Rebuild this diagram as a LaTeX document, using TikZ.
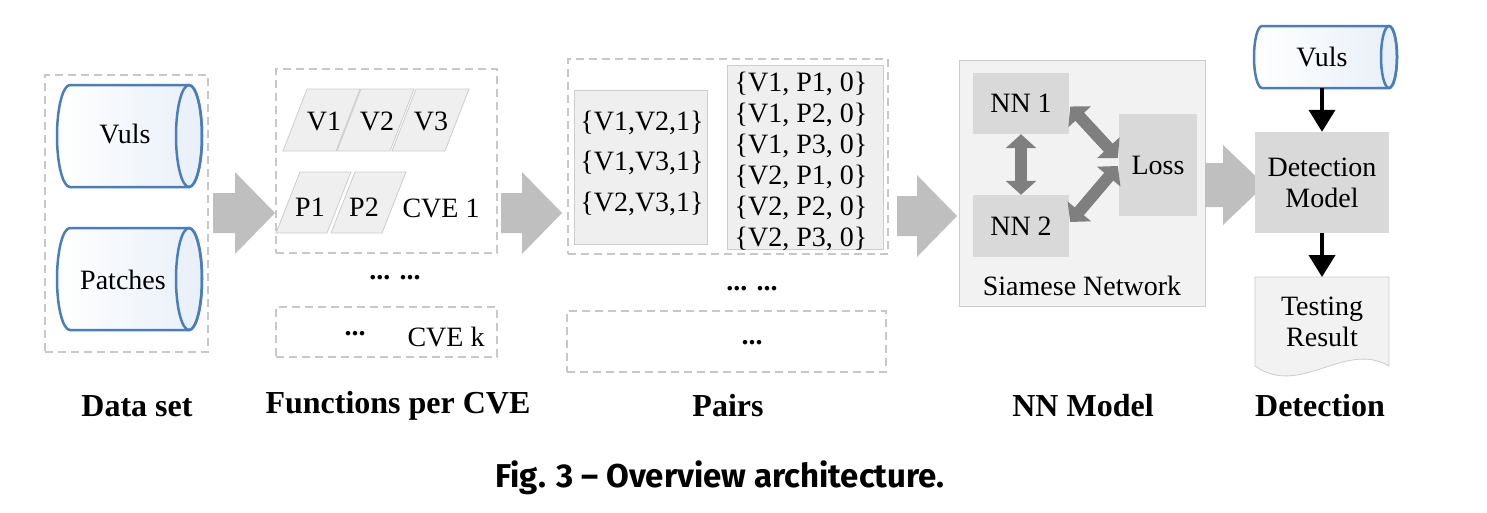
\documentclass[tikz,border=0pt]{standalone}
\usepackage{fontspec}
\setmainfont{Liberation Serif}
\newfontfamily\capfont{Fira Sans}
\usetikzlibrary{arrows.meta,calc}
\definecolor{cylblue}{HTML}{4A7EBB}
\definecolor{cylfill}{HTML}{E8EFF8}
\definecolor{dashgray}{HTML}{C8C8C8}
\definecolor{arrowgray}{HTML}{BFBFBF}
\definecolor{boxfill}{HTML}{EFEFEF}
\definecolor{boxline}{HTML}{CCCCCC}
\definecolor{nnfill}{HTML}{D9D9D9}
\definecolor{darrgray}{HTML}{7F7F7F}
\definecolor{siamfill}{HTML}{F2F2F2}
\newcommand{\bodyfont}{\fontsize{28}{31}\selectfont}
\newcommand{\blockarrow}[6]{%
  \fill[arrowgray] (#1,{#4-#5}) -- (#2,{#4-#5}) -- (#2,{#4-#6}) -- (#3,#4) -- (#2,{#4+#6}) -- (#2,{#4+#5}) -- (#1,{#4+#5}) -- cycle;}
\begin{document}
\begin{tikzpicture}[x=1pt,y=-1pt,
  every node/.style={font=\bodyfont, inner sep=0pt},
  dashbox/.style={draw=dashgray, line width=1.3pt, dash pattern=on 8pt off 5pt},
  innerbox/.style={draw=boxline, fill=boxfill, line width=0.8pt},
  nnbox/.style={fill=nnfill},
  cylbody/.style={draw=cylblue, line width=2.5pt, left color=white, right color=cylfill},
  cylend/.style={draw=cylblue, line width=2.5pt},
  parabox/.style={draw=boxline, fill=boxfill, line width=0.8pt},
  darr/.style={draw=darrgray, line width=12pt, {Triangle[length=14pt,width=30pt]}-{Triangle[length=14pt,width=30pt]}},
  blackarr/.style={draw=black, line width=4pt, -{Triangle[length=22pt,width=26pt]}},
  steplabel/.style={font=\fontsize{32}{36}\selectfont\bfseries}]
\useasboundingbox (0,0) rectangle (1487,512);

% ---------- Data set ----------
\node[dashbox, minimum width=163pt, minimum height=277pt] (dataset) at (126.5,213.5) {};
\path[cylbody] (70,85) -- (189,85) arc[start angle=-90,end angle=90,x radius=13,y radius=51] -- (70,187) arc[start angle=90,end angle=270,x radius=13,y radius=51] -- cycle;
\draw[cylend] (189,136) ellipse[x radius=13,y radius=51];
\node (vuls) at (125,134) {Vuls};
\path[cylbody] (70,228) -- (189,228) arc[start angle=-90,end angle=90,x radius=13,y radius=51] -- (70,330) arc[start angle=90,end angle=270,x radius=13,y radius=51] -- cycle;
\draw[cylend] (189,279) ellipse[x radius=13,y radius=51];
\node (patches) at (123,280) {Patches};

\blockarrow{213}{235}{275}{213}{20}{41}

% ---------- Functions per CVE ----------
\node[dashbox, minimum width=221pt, minimum height=184pt] (cve1box) at (386.5,161) {};
\draw[parabox] (283,151) -- (307,89) -- (360,89) -- (336,151) -- cycle;
\draw[parabox] (337,151) -- (361,89) -- (414,89) -- (390,151) -- cycle;
\draw[parabox] (392,151) -- (416,89) -- (469,89) -- (445,151) -- cycle;
\draw[parabox] (276,233) -- (300,172) -- (351,172) -- (327,233) -- cycle;
\draw[parabox] (331,233) -- (355,172) -- (406,172) -- (382,233) -- cycle;
\node (v1) at (324,121) {V1};
\node (v2) at (377,121) {V2};
\node (v3) at (431,121) {V3};
\node (p1) at (310,207) {P1};
\node (p2) at (364,207) {P2};
\node (cve1) at (441,208) {CVE 1};
\node[font=\bodyfont\bfseries] (dots1) at (395,278) {... ...};
\node[dashbox, minimum width=221pt, minimum height=50pt] (cvekbox) at (386.5,332) {};
\node[font=\bodyfont\bfseries] (dotsk) at (355,334) {...};
\node (cvek) at (446,337) {CVE k};

\blockarrow{501}{522}{562}{213}{20}{41}

% ---------- Pairs ----------
\node[dashbox, minimum width=320pt, minimum height=195pt] (pairsbox) at (728,156.5) {};
\node[innerbox, minimum width=133pt, minimum height=154pt] (posbox) at (640.5,167) {};
\node[innerbox, minimum width=156pt, minimum height=184pt] (negbox) at (805,157) {};
\node[align=center, font=\fontsize{28}{40.5}\selectfont] (pos) at (642,163) {\{V1,V2,1\}\\\{V1,V3,1\}\\\{V2,V3,1\}};
\node[align=center] (neg) at (801,161) {\{V1, P1, 0\}\\\{V1, P2, 0\}\\\{V1, P3, 0\}\\\{V2, P1, 0\}\\\{V2, P2, 0\}\\\{V2, P3, 0\}};
\node[font=\bodyfont\bfseries] (dots2) at (752,289) {... ...};
\node[dashbox, minimum width=319pt, minimum height=61pt] (pairsk) at (726.5,341.5) {};
\node[font=\bodyfont\bfseries] (dots3) at (752,343) {...};

\blockarrow{897}{917}{957}{216}{20}{41}

% ---------- NN Model ----------
\node[draw=boxline, fill=siamfill, line width=0.8pt, minimum width=246pt, minimum height=246pt] (siam) at (1082,183) {};
\node[nnbox, minimum width=96pt, minimum height=61pt] (nn1) at (1021,103.5) {NN 1};
\node[nnbox, minimum width=96pt, minimum height=62pt] (nn2) at (1021,226) {NN 2};
\node[nnbox, minimum width=78pt, minimum height=102pt] (loss) at (1158,165) {Loss};
\node (siamlabel) at (1082,286) {Siamese Network};
\draw[darr] (nn1.south) -- (nn2.north);
\draw[darr] ($(nn1.east)+(1,3)$) -- ($(loss.west)+(-1,-7)$);
\draw[darr] ($(nn2.east)+(1,-4)$) -- ($(loss.west)+(-1,1)$);

\blockarrow{1205}{1223}{1265}{185}{22}{40}

% ---------- Detection ----------
\path[cylbody] (1262,26) -- (1389,26) arc[start angle=-90,end angle=90,x radius=8,y radius=31] -- (1262,88) arc[start angle=90,end angle=270,x radius=8,y radius=31] -- cycle;
\draw[cylend] (1389,57) ellipse[x radius=8,y radius=31];
\node[minimum height=62pt] (vuls2) at (1322,57) {Vuls};
\node[nnbox, minimum width=134pt, minimum height=101pt, align=center] (det) at (1322,182.5) {Detection\\Model};
\draw[draw=boxline, fill=siamfill, line width=0.8pt] (1255,277) -- (1389,277) -- (1389,366) .. controls (1345,340) and (1300,398) .. (1255,366) -- cycle;
\node[align=center, minimum height=89pt, anchor=north] (test) at (1322,277) {Testing\\Result};
\draw[blackarr] (vuls2.south) -- (det.north);
\draw[blackarr] (det.south) -- (test.north);

% ---------- Labels ----------
\node[steplabel] (l1) at (137,406) {Data set};
\node[steplabel] (l2) at (398,406) {Functions per CVE};
\node[steplabel] (l3) at (728,406) {Pairs};
\node[steplabel] (l4) at (1083,406) {NN Model};
\node[steplabel] (l5) at (1320,406) {Detection};
\node[font=\capfont\bfseries\fontsize{33}{36}\selectfont] (caption) at (720,478) {Fig. 3 – Overview architecture.};
\end{tikzpicture}
\end{document}
